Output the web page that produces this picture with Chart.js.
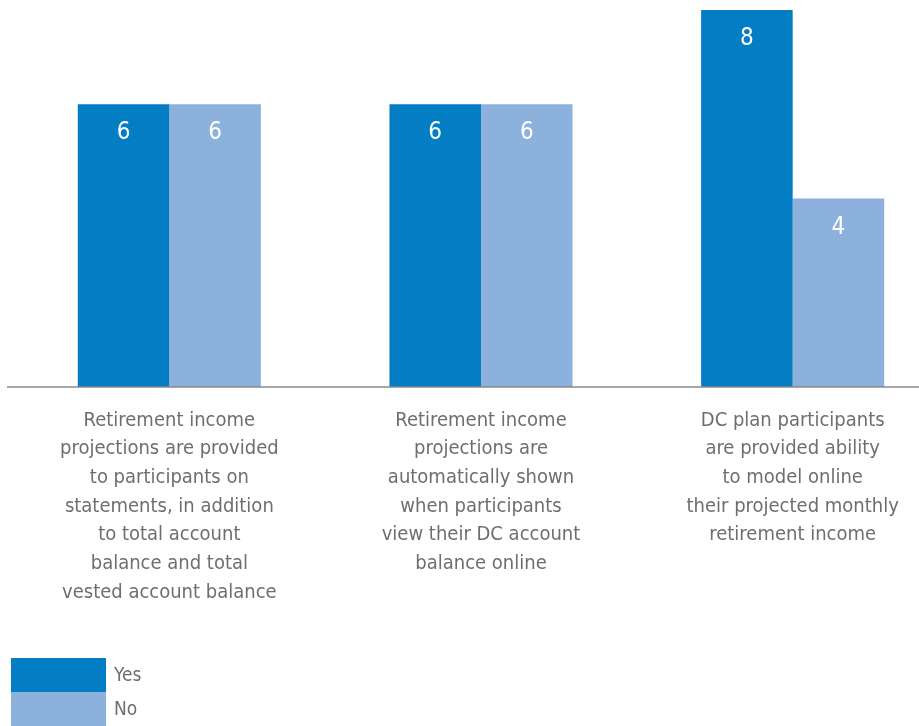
<!DOCTYPE html>
<html>
<head>
<meta charset="utf-8">
<script src="https://cdn.jsdelivr.net/npm/chart.js@4/dist/chart.umd.min.js"></script>
<style>
  html, body { margin: 0; padding: 0; background: #fff; overflow: hidden; }
  #wrap { width: 950px; height: 726px; position: relative; }
</style>
</head>
<body>
<div id="wrap"><canvas id="c"></canvas></div>
<script>
const categories = [
  ["Retirement income", "projections are provided", "to participants on", "statements, in addition", "to total account", "balance and total", "vested account balance"],
  ["Retirement income", "projections are", "automatically shown", "when participants", "view their DC account", "balance online"],
  ["DC plan participants", "are provided ability", "to model online", "their projected monthly", "retirement income"]
];
const seriesNames = ["Yes", "No"];
const yesValues = [6, 6, 8];
const noValues = [6, 6, 4];
const seriesColors = ["#037DC4", "#8DB1DD"];

const FONT = "'DejaVu Sans Condensed', 'DejaVu Sans', sans-serif";
const GRAY = "#6d6e71";

const baselinePlugin = {
  id: 'baseline',
  afterDatasetsDraw(chart) {
    const ctx = chart.ctx;
    const y = chart.scales.y.getPixelForValue(0);
    ctx.save();
    ctx.strokeStyle = "#8a8a8a";
    ctx.lineWidth = 1.5;
    ctx.beginPath();
    ctx.moveTo(7, y);
    ctx.lineTo(chart.width, y);
    ctx.stroke();
    ctx.restore();
  }
};

const valueLabelPlugin = {
  id: 'valueLabels',
  afterDatasetsDraw(chart) {
    const ctx = chart.ctx;
    ctx.save();
    ctx.fillStyle = "#ffffff";
    ctx.font = "24px " + FONT;
    ctx.textAlign = "center";
    ctx.textBaseline = "middle";
    chart.data.datasets.forEach((ds, di) => {
      chart.getDatasetMeta(di).data.forEach((bar, i) => {
        ctx.fillText(String(ds.data[i]), bar.x, bar.y + 29);
      });
    });
    ctx.restore();
  }
};

const legendPlugin = {
  id: 'customLegend',
  afterDraw(chart) {
    const ctx = chart.ctx;
    ctx.save();
    ctx.font = "19px " + FONT;
    ctx.textBaseline = "middle";
    ctx.textAlign = "left";
    chart.data.datasets.forEach((ds, di) => {
      const top = 658 + di * 34;
      ctx.fillStyle = ds.backgroundColor;
      ctx.fillRect(11, top, 95, 34);
      ctx.fillStyle = GRAY;
      ctx.fillText(ds.label, 114, top + 18);
    });
    ctx.restore();
  }
};

new Chart(document.getElementById('c'), {
  type: 'bar',
  data: {
    labels: categories,
    datasets: [
      { label: seriesNames[0], data: yesValues, backgroundColor: seriesColors[0] },
      { label: seriesNames[1], data: noValues, backgroundColor: seriesColors[1] }
    ]
  },
  options: {
    responsive: true,
    maintainAspectRatio: false,
    animation: false,
    layout: { padding: { left: 13.5, right: 1.5, top: 0, bottom: 0 } },
    plugins: { legend: { display: false }, tooltip: { enabled: false } },
    datasets: { bar: { barPercentage: 1, categoryPercentage: 0.5875 } },
    scales: {
      x: {
        grid: { display: false },
        border: { display: false },
        ticks: {
          autoSkip: false, maxRotation: 0, minRotation: 0,
          padding: 11,
          color: GRAY,
          font: { family: FONT, size: 20, lineHeight: 1.435 }
        },
        afterFit(s) { s.height = 339; }
      },
      y: {
        display: false,
        min: 0,
        max: 8.21
      }
    }
  },
  plugins: [baselinePlugin, valueLabelPlugin, legendPlugin]
});
</script>
</body>
</html>
